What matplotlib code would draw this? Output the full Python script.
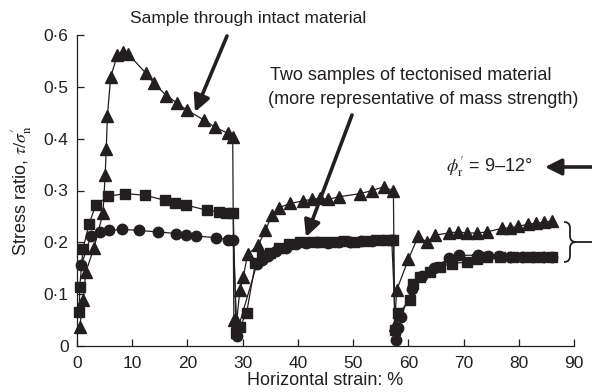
import matplotlib
matplotlib.use("Agg")
import matplotlib.pyplot as plt
from matplotlib.path import Path
from matplotlib.patches import PathPatch
from matplotlib.lines import Line2D

plt.rcParams['font.family'] = ['Liberation Sans', 'DejaVu Sans']
plt.rcParams['mathtext.fontset'] = 'stix'

# ---- data ----
intact_x = [0.5, 1.1, 1.6, 3.1, 4.7, 5.1, 5.3, 5.5, 6.1, 7.3, 8.4, 9.3, 12.5, 13.9, 16.2, 18.1,
            19.9, 23.0, 25.0, 27.4, 28.2,
            28.4, 28.9, 29.5, 30.1, 30.9, 32.8, 34.1, 35.3, 36.6, 38.6, 41.0, 42.5, 44.0, 45.5,
            47.5, 51.3, 53.4, 55.6, 57.3,
            57.5, 57.9, 60.0, 61.8, 63.4, 64.9, 67.3, 69.0, 70.6, 72.4, 74.2, 76.9, 78.4, 79.9,
            81.7, 83.2, 84.6, 86.0]
intact_y = [0.037, 0.088, 0.143, 0.190, 0.256, 0.330, 0.380, 0.443, 0.519, 0.561, 0.568, 0.563,
            0.526, 0.507, 0.483, 0.469, 0.455, 0.436, 0.422, 0.410, 0.403,
            0.050, 0.046, 0.108, 0.133, 0.177, 0.194, 0.223, 0.252, 0.267, 0.275, 0.280, 0.283,
            0.285, 0.283, 0.288, 0.294, 0.300, 0.307, 0.299,
            0.040, 0.108, 0.167, 0.212, 0.200, 0.214, 0.218, 0.220, 0.218, 0.218, 0.220, 0.227,
            0.228, 0.231, 0.235, 0.237, 0.239, 0.241]

sq_x = [0.4, 0.5, 1.1, 2.2, 3.4, 5.7, 8.7, 12.3, 15.9, 17.8, 19.7, 23.5, 25.8, 27.0, 28.3,
        28.8, 29.5, 30.7, 32.3, 33.5, 35.0, 36.5, 38.4, 40.4, 42.4, 44.3, 46.3, 48.3, 50.2,
        52.2, 54.2, 56.7, 57.3,
        57.6, 58.2, 60.3, 60.9, 62.1, 63.9, 65.8, 67.9, 70.6, 72.5, 74.2, 76.6, 79.0, 81.5,
        83.6, 86.0]
sq_y = [0.066, 0.114, 0.188, 0.236, 0.272, 0.289, 0.294, 0.291, 0.281, 0.276, 0.272, 0.262,
        0.259, 0.257, 0.256,
        0.025, 0.037, 0.063, 0.160, 0.172, 0.180, 0.190, 0.196, 0.200, 0.200, 0.200, 0.201,
        0.202, 0.200, 0.203, 0.204, 0.204, 0.204,
        0.030, 0.063, 0.088, 0.120, 0.133, 0.143, 0.153, 0.159, 0.162, 0.168, 0.172, 0.172,
        0.171, 0.171, 0.171, 0.171]

ci_x = [0.8, 2.5, 4.1, 5.8, 8.2, 11.2, 14.7, 18.0, 19.8, 21.6, 25.2, 27.4, 28.3,
        29.0, 29.2, 32.6, 33.5, 34.5, 36.0, 37.8, 39.6, 41.5, 43.5, 45.5, 47.5, 49.5, 51.5,
        53.5, 55.5, 57.0,
        57.8, 58.2, 58.6, 60.6, 62.4, 64.6, 67.3, 69.1, 72.7, 74.5, 76.5, 78.5, 80.5, 82.5,
        84.5, 86.0]
ci_y = [0.156, 0.212, 0.220, 0.223, 0.225, 0.223, 0.220, 0.217, 0.214, 0.212, 0.209, 0.205,
        0.205,
        0.019, 0.035, 0.159, 0.165, 0.173, 0.183, 0.190, 0.196, 0.198, 0.200, 0.199, 0.200,
        0.201, 0.202, 0.203, 0.204, 0.204,
        0.011, 0.034, 0.055, 0.110, 0.135, 0.150, 0.169, 0.175, 0.175, 0.173, 0.173, 0.172,
        0.172, 0.172, 0.172, 0.172]

xticks = [0, 10, 20, 30, 40, 50, 60, 70, 80, 90]
yticks = [0, 0.1, 0.2, 0.3, 0.4, 0.5, 0.6]
ytick_labels = ['0', '0·1', '0·2', '0·3', '0·4', '0·5', '0·6']

W, H = 592, 392
ink = '#231f20'
fig = plt.figure(figsize=(W / 100, H / 100), dpi=100)
ax = fig.add_axes([77 / W, 1 - 346 / H, (574 - 77) / W, (346 - 35) / H])

ax.plot(sq_x, sq_y, color=ink, lw=0.9, marker='s', ms=7, clip_on=False)
ax.plot(ci_x, ci_y, color=ink, lw=0.9, marker='o', ms=7.5, clip_on=False)
ax.plot(intact_x, intact_y, color=ink, lw=0.9, marker='^', ms=8.5, clip_on=False)

ax.set_xlim(0, 90)
ax.set_ylim(0, 0.6)
ax.set_xticks(xticks)
ax.set_yticks(yticks)
ax.set_yticklabels(ytick_labels)
for s in ['top', 'right']:
    ax.spines[s].set_visible(False)
for s in ['left', 'bottom']:
    ax.spines[s].set_color(ink)
    ax.spines[s].set_linewidth(0.9)
ax.tick_params(direction='in', length=5, width=0.9, colors=ink, labelsize=12.5)
ax.tick_params(axis='x', pad=7)
ax.tick_params(axis='y', pad=6)
ax.set_xlabel('Horizontal strain: %', fontsize=13, color=ink, labelpad=1)
ax.set_ylabel(r"Stress ratio, $\tau/\sigma^{\prime}_{\mathrm{n}}$", fontsize=13, color=ink,
              labelpad=7)


def fx(px):
    return px / W


def fy(py):
    return 1 - py / H


arrow_kw = dict(arrowstyle='-|>,head_length=0.7,head_width=0.35', lw=2.6, color=ink,
                shrinkA=0, shrinkB=0, mutation_scale=14)

fig.text(fx(130), fy(18), 'Sample through intact material', fontsize=12.5, color=ink,
         ha='left', va='center')
ax.annotate('', xy=(fx(195), fy(112)), xytext=(fx(227), fy(36)),
            xycoords='figure fraction', textcoords='figure fraction', arrowprops=arrow_kw)

fig.text(fx(270), fy(75), 'Two samples of tectonised material', fontsize=13, color=ink,
         ha='left', va='center')
fig.text(fx(268), fy(100), '(more representative of mass strength)', fontsize=13, color=ink,
         ha='left', va='center')
ax.annotate('', xy=(fx(306), fy(237)), xytext=(fx(352), fy(115)),
            xycoords='figure fraction', textcoords='figure fraction', arrowprops=arrow_kw)

fig.text(fx(532), fy(167), r"$\phi^{\prime}_{\mathrm{r}}$ = 9–12°", fontsize=13, color=ink,
         ha='right', va='center')
ax.annotate('', xy=(fx(545), fy(167)), xytext=(fx(592), fy(167)),
            xycoords='figure fraction', textcoords='figure fraction', arrowprops=arrow_kw)

# curly brace
bx0, bx1, bx2 = 564, 570, 576
by0, bym, by1 = 222, 242, 262
verts = [(bx0, by0), (bx1, by0), (bx1, by0 + 6), (bx1, bym - 6), (bx1, bym), (bx2, bym),
         (bx1, bym), (bx1, bym + 6), (bx1, by1 - 6), (bx1, by1), (bx0, by1)]
codes = [Path.MOVETO, Path.CURVE3, Path.CURVE3, Path.LINETO, Path.CURVE3, Path.CURVE3,
         Path.CURVE3, Path.CURVE3, Path.LINETO, Path.CURVE3, Path.CURVE3]
verts_f = [(fx(x), fy(y)) for x, y in verts]
fig.patches.append(PathPatch(Path(verts_f, codes), transform=fig.transFigure, fill=False,
                             edgecolor=ink, lw=1.3))
fig.lines.append(Line2D([fx(bx2), fx(592)], [fy(bym), fy(bym)], transform=fig.transFigure,
                        color=ink, lw=1.3))

fig.savefig('out.png', dpi=100)
